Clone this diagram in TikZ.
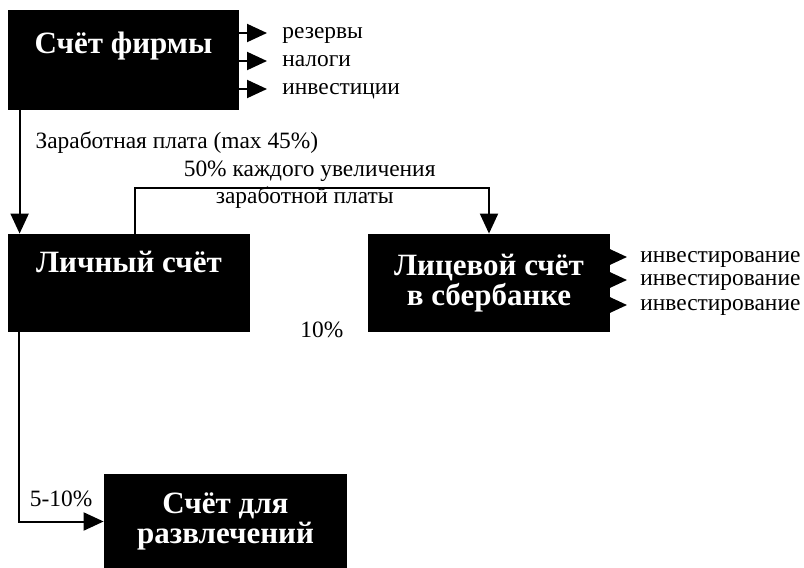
\documentclass[tikz,border=0pt]{standalone}
\usepackage{fontspec}
\setmainfont{Liberation Serif}
\usetikzlibrary{arrows.meta}

\begin{document}
\begin{tikzpicture}[x=0.5pt, y=-0.5pt,
  acct/.style={fill=black, text=white, inner sep=0pt, align=center,
    font=\fontsize{15.5}{15}\selectfont\bfseries},
  arr/.style={line width=1pt, -{Triangle[length=10pt, width=9pt]}},
  lbl/.style={font=\fontsize{11.7}{13}\selectfont, inner sep=0pt},
  sidelabel/.style={lbl, anchor=west, inner xsep=7.5pt, text height=8pt, text depth=2.7pt}]
  \useasboundingbox (0,0) rectangle (804,568);
  \node [acct, minimum width=115.5pt, text height=21.5pt, text depth=28.5pt] (FA) at (123.5,60) {Счёт фирмы};
  \node [acct, minimum width=121pt, text height=19pt, text depth=30pt] (PA) at (129,283) {Личный счёт};
  \node [acct, minimum width=121pt, minimum height=49pt] (SA) at (489,283) {Лицевой счёт\\в сбербанке};
  \node [acct, minimum width=121.5pt, minimum height=47.5pt] (EA) at (225.5,521.5) {Счёт для\\развлечений};
  \node [sidelabel] (RES) at (267,33) {резервы};
  \node [sidelabel] (TAX) at (267,61) {налоги};
  \node [sidelabel] (INV) at (267,89) {инвестиции};
  \node [sidelabel, inner xsep=6.5pt] (SI1) at (627,257) {инвестирование};
  \node [sidelabel, inner xsep=6.5pt] (SI2) at (627,280) {инвестирование};
  \node [sidelabel, inner xsep=6.5pt] (SI3) at (627,305) {инвестирование};
  \node [lbl, anchor=base west] (TEN) at (300,337) {10\%};
  \draw [arr] (FA.east |- RES.west) -- (RES.west);
  \draw [arr] (FA.east |- TAX.west) -- (TAX.west);
  \draw [arr] (FA.east |- INV.west) -- (INV.west);
  \draw [arr] (SA.east |- SI1.west) -- (SI1.west);
  \draw [arr] (SA.east |- SI2.west) -- (SI2.west);
  \draw [arr] (SA.east |- SI3.west) -- (SI3.west);
  \draw [arr] ([xshift=6pt]FA.south west) -- node [lbl, pos=0.306, anchor=base west, xshift=7.5pt] {Заработная плата (max 45\%)} ([xshift=6pt]PA.north west);
  \draw [arr] ([xshift=63.5pt]PA.north west) -- ++(0,23pt) -| node [lbl, pos=0.247, anchor=base, yshift=5.5pt] {50\% каждого увеличения} node [lbl, pos=0.24, anchor=base, yshift=-8pt] {заработной платы} (SA.north);
  \draw [arr] ([xshift=5.5pt]PA.south west) |- node [lbl, pos=0.75, anchor=base, yshift=7.5pt] {5-10\%} (EA.west);
\end{tikzpicture}
\end{document}
